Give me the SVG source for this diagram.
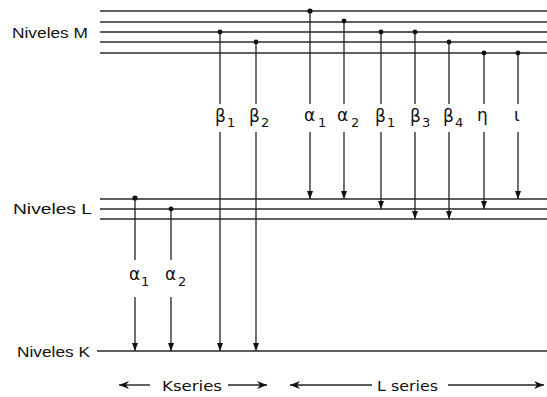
<svg xmlns="http://www.w3.org/2000/svg" width="547" height="397" viewBox="0 0 547 397">
<style>
.lvl{stroke:#2a2a2a;stroke-width:1.6;fill:none}
.tr{stroke:#222;stroke-width:1.3;fill:none}
.ar{stroke:#222;stroke-width:1.3;fill:none;marker-end:url(#ah)}
.sa{stroke:#222;stroke-width:1.4;fill:none;marker-end:url(#ahr)}
.dot{fill:#111}
.lab{font-family:"Liberation Sans",Arial,sans-serif;font-size:15px;fill:#111}
.gr{font-family:"DejaVu Sans",sans-serif;font-size:17px;fill:#111}
.sub{font-family:"DejaVu Sans",sans-serif;font-size:13px;fill:#111}
.ser{font-family:"DejaVu Sans",sans-serif;font-size:14px;fill:#111}
</style>
<defs>
<marker id="ah" markerWidth="8" markerHeight="6" refX="8" refY="3" orient="auto" markerUnits="userSpaceOnUse" viewBox="0 0 8 6">
<path d="M0,0 L8,3 L0,6 Z" fill="#111"/>
</marker>
<marker id="ahr" markerWidth="10" markerHeight="8" refX="10" refY="4" orient="auto" markerUnits="userSpaceOnUse" viewBox="0 0 10 8">
<path d="M0,0 L10,4 L0,8 L3,4 Z" fill="#111"/>
</marker>
</defs>
<rect width="547" height="397" fill="#fff"/>
<g id="levels-M">
<line class="lvl" x1="100" y1="11" x2="547" y2="11"/>
<line class="lvl" x1="100" y1="22" x2="547" y2="22"/>
<line class="lvl" x1="100" y1="32" x2="547" y2="32"/>
<line class="lvl" x1="100" y1="42" x2="547" y2="42"/>
<line class="lvl" x1="100" y1="53" x2="547" y2="53"/>
<text class="lab" x="12" y="38" textLength="76" lengthAdjust="spacingAndGlyphs">Niveles M</text>
</g>
<g id="levels-L">
<line class="lvl" x1="100" y1="199" x2="547" y2="199"/>
<line class="lvl" x1="100" y1="209" x2="547" y2="209"/>
<line class="lvl" x1="100" y1="219" x2="547" y2="219"/>
<text class="lab" x="13" y="214" textLength="79" lengthAdjust="spacingAndGlyphs">Niveles  L</text>
</g>
<g id="levels-K">
<line class="lvl" x1="97" y1="351" x2="547" y2="351"/>
<text class="lab" x="17" y="357" textLength="73" lengthAdjust="spacingAndGlyphs">Niveles K</text>
</g>
<g id="connectors">
<line class="tr" x1="135" y1="198" x2="135" y2="260"/><line class="ar" x1="135" y1="297" x2="135" y2="351"/>
<line class="tr" x1="171" y1="209" x2="171" y2="260"/><line class="ar" x1="171" y1="297" x2="171" y2="351"/>
<line class="tr" x1="220" y1="32" x2="220" y2="104"/><line class="ar" x1="220" y1="132" x2="220" y2="351"/>
<line class="tr" x1="256" y1="42" x2="256" y2="104"/><line class="ar" x1="256" y1="132" x2="256" y2="351"/>
<line class="tr" x1="310" y1="11" x2="310" y2="104"/><line class="ar" x1="310" y1="132" x2="310" y2="199"/>
<line class="tr" x1="344" y1="22" x2="344" y2="104"/><line class="ar" x1="344" y1="132" x2="344" y2="199"/>
<line class="tr" x1="381" y1="32" x2="381" y2="104"/><line class="ar" x1="381" y1="132" x2="381" y2="209"/>
<line class="tr" x1="415" y1="32" x2="415" y2="104"/><line class="ar" x1="415" y1="132" x2="415" y2="219"/>
<line class="tr" x1="449" y1="42" x2="449" y2="104"/><line class="ar" x1="449" y1="132" x2="449" y2="219"/>
<line class="tr" x1="484" y1="53" x2="484" y2="104"/><line class="ar" x1="484" y1="132" x2="484" y2="209"/>
<line class="tr" x1="518" y1="53" x2="518" y2="104"/><line class="ar" x1="518" y1="132" x2="518" y2="199"/>
<circle class="dot" cx="135" cy="198" r="2.6"/>
<circle class="dot" cx="171" cy="209" r="2.4"/>
<circle class="dot" cx="220" cy="32" r="2.4"/>
<circle class="dot" cx="256" cy="42" r="2.4"/>
<circle class="dot" cx="310" cy="11" r="2.6"/>
<circle class="dot" cx="344" cy="21" r="2.4"/>
<circle class="dot" cx="381" cy="32" r="2.4"/>
<circle class="dot" cx="415" cy="32" r="2.4"/>
<circle class="dot" cx="449" cy="42" r="2.4"/>
<circle class="dot" cx="484" cy="53" r="2.4"/>
<circle class="dot" cx="518" cy="53" r="2.4"/>
</g>
<g id="labels">
<text class="gr" x="129" y="280">α</text><text class="sub" x="141" y="286">1</text>
<text class="gr" x="165" y="280">α</text><text class="sub" x="178" y="286">2</text>
<text class="gr" x="215" y="122">β</text><text class="sub" x="227" y="127">1</text>
<text class="gr" x="249" y="122">β</text><text class="sub" x="261" y="127">2</text>
<text class="gr" x="304" y="121">α</text><text class="sub" x="318" y="127">1</text>
<text class="gr" x="337" y="121">α</text><text class="sub" x="351" y="127">2</text>
<text class="gr" x="375" y="122">β</text><text class="sub" x="387" y="127">1</text>
<text class="gr" x="410" y="122">β</text><text class="sub" x="422" y="127">3</text>
<text class="gr" x="443" y="122">β</text><text class="sub" x="455" y="127">4</text>
<text class="gr" x="477" y="121">η</text>
<text class="gr" x="514" y="121">ι</text>
</g>
<g id="series">
<line class="sa" x1="150" y1="385" x2="119" y2="385"/>
<text class="ser" x="162" y="391" textLength="60" lengthAdjust="spacingAndGlyphs">Kseries</text>
<line class="sa" x1="228" y1="385" x2="267" y2="385"/>
<line class="sa" x1="372" y1="385" x2="290" y2="385"/>
<text class="ser" x="377" y="391" textLength="61" lengthAdjust="spacingAndGlyphs">L series</text>
<line class="sa" x1="448" y1="385" x2="544" y2="385"/>
</g>
</svg>
